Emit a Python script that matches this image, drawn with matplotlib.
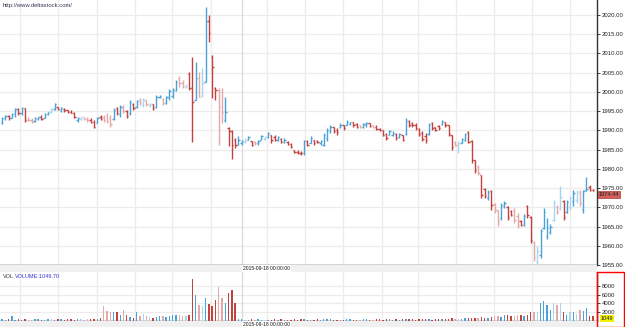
import numpy as np
import matplotlib
matplotlib.use("Agg")
import matplotlib.pyplot as plt
from matplotlib.patches import Rectangle

plt.rcParams['font.family'] = ['Liberation Sans', 'DejaVu Sans']

# ---- 15 min OHLC bars ----
opens = [
    1992.0, 1993.2, 1993.8, 1993.2, 1994.2, 1995.5, 1994.4, 1995.8, 1992.8, 1992.6,
    1992.4, 1993.0, 1993.4, 1993.3, 1994.3, 1994.7, 1995.5, 1996.1, 1995.3, 1995.6,
    1995.2, 1994.9, 1994.6, 1992.6, 1993.0, 1993.4, 1993.0, 1992.6, 1992.1, 1992.0,
    1993.6, 1993.5, 1993.8, 1993.2, 1993.0, 1995.8, 1994.2, 1996.2, 1995.0, 1994.4,
    1996.9, 1996.0, 1997.8, 1996.6,
    1997.8, 1996.5, 1996.9, 1996.0, 1998.6, 1998.2, 1997.0, 1998.6, 1999.0, 2000.5,
    2003.6, 2002.3, 2001.3, 2004.6, 2001.0, 1998.0, 2003.6, 1999.0, 2002.7, 2018.5,
    2009.0, 2001.0, 2000.6, 2000.0, 1992.8, 1990.5, 1989.9, 1987.5, 1986.3, 1986.6,
    1987.0, 1987.6, 1987.2, 1987.0, 1986.6, 1987.6, 1987.8, 1988.2, 1988.7, 1988.4,
    1987.4, 1987.8, 1987.0, 1987.0, 1986.5,
    1985.0, 1984.4, 1984.2, 1984.0, 1987.2, 1986.8, 1987.4, 1987.2, 1986.7, 1986.3,
    1988.0, 1989.8, 1990.8, 1990.2, 1990.8, 1991.3, 1991.5, 1991.7, 1992.2, 1991.6,
    1991.3, 1990.8, 1991.3, 1991.8, 1991.3, 1991.0, 1990.4, 1990.0, 1989.0, 1988.9,
    1988.9, 1989.1, 1988.2, 1988.8, 1989.0, 1992.5, 1992.0, 1991.5, 1990.4, 1989.2,
    1988.6, 1989.0, 1992.0, 1990.8, 1991.2,
    1991.6, 1992.2, 1991.4, 1988.7, 1987.0, 1984.8, 1986.8, 1987.5, 1989.5, 1987.3,
    1982.2, 1980.5, 1978.4, 1974.8, 1972.4, 1974.2, 1970.8, 1969.2, 1967.2, 1970.3,
    1970.0, 1969.0, 1969.3, 1967.8, 1966.5, 1965.5, 1970.3, 1967.5, 1961.0, 1955.8,
    1957.6, 1964.5, 1962.5, 1963.5, 1966.8, 1970.2, 1969.6, 1971.6, 1968.9, 1970.0,
    1971.6, 1972.0, 1974.0, 1969.5, 1974.4, 1975.4, 1974.6,
]
highs = [
    1993.6, 1994.1, 1993.9, 1994.5, 1995.8, 1995.8, 1996.0, 1995.8, 1993.4, 1993.2,
    1993.6, 1993.6, 1994.1, 1994.5, 1994.9, 1995.8, 1997.1, 1996.2, 1996.2, 1995.8,
    1995.4, 1995.4, 1994.9, 1993.6, 1993.6, 1993.6, 1993.6, 1993.2, 1992.8, 1993.6,
    1994.1, 1994.1, 1994.5, 1994.1, 1995.8, 1996.2, 1996.7, 1996.7, 1995.4, 1998.0,
    1997.1, 1998.0, 1998.4, 1998.4,
    1998.0, 1997.1, 1996.9, 1999.3, 1999.3, 1998.4, 1999.0, 2000.7, 2001.0, 2003.0,
    2004.2, 2003.1, 2001.9, 2005.3, 2009.2, 2007.9, 2005.3, 2006.2, 2022.2, 2020.0,
    2009.6, 2001.2, 2001.0, 2001.0, 1998.6, 1991.0, 1990.2, 1988.0, 1988.5, 1987.6,
    1988.0, 1988.5, 1987.2, 1987.2, 1987.6, 1988.9, 1988.5, 1989.7, 1988.9, 1988.9,
    1988.5, 1988.0, 1988.0, 1987.2, 1986.7,
    1985.0, 1984.8, 1984.6, 1987.6, 1987.6, 1988.5, 1987.6, 1987.6, 1987.6, 1989.3,
    1990.6, 1991.5, 1991.0, 1990.6, 1991.9, 1991.5, 1992.8, 1992.3, 1992.3, 1991.9,
    1991.5, 1991.9, 1992.3, 1991.9, 1991.5, 1991.5, 1990.6, 1990.2, 1989.3, 1990.2,
    1989.8, 1989.3, 1989.3, 1988.9, 1993.2, 1992.8, 1992.3, 1991.9, 1990.6, 1989.8,
    1989.3, 1991.9, 1992.3, 1991.0, 1991.5,
    1992.8, 1992.3, 1991.5, 1988.9, 1987.2, 1987.2, 1988.0, 1989.3, 1989.8, 1987.6,
    1982.4, 1981.1, 1978.5, 1975.1, 1974.6, 1974.6, 1971.2, 1969.4, 1971.2, 1971.6,
    1970.3, 1969.4, 1969.9, 1968.6, 1966.8, 1968.2, 1970.7, 1967.7, 1961.2, 1959.9,
    1964.3, 1969.9, 1967.3, 1965.6, 1972.0, 1970.7, 1975.5, 1972.0, 1972.0, 1972.9,
    1974.6, 1974.6, 1974.6, 1974.6, 1977.9, 1975.7, 1974.8,
]
lows = [
    1991.6, 1992.8, 1992.8, 1993.2, 1993.6, 1994.1, 1994.1, 1992.3, 1992.5, 1991.9,
    1992.3, 1992.8, 1992.8, 1993.2, 1994.1, 1994.5, 1995.4, 1995.4, 1994.9, 1994.9,
    1994.5, 1994.5, 1993.2, 1992.3, 1992.8, 1992.8, 1992.3, 1991.9, 1990.6, 1991.9,
    1992.8, 1992.3, 1991.9, 1991.0, 1992.8, 1994.1, 1993.6, 1994.5, 1993.2, 1994.1,
    1995.4, 1995.8, 1996.7, 1996.2,
    1996.4, 1996.2, 1995.4, 1995.8, 1998.4, 1996.7, 1996.8, 1998.0, 1998.4, 2000.2,
    2001.4, 2001.0, 2001.0, 2000.6, 1986.9, 1998.0, 1998.8, 1998.8, 2002.7, 2013.1,
    1998.4, 1998.0, 1986.3, 1991.9, 1992.3, 1985.9, 1982.6, 1985.4, 1986.3, 1986.3,
    1986.7, 1987.6, 1985.9, 1986.3, 1986.3, 1987.6, 1987.6, 1988.0, 1986.7, 1987.2,
    1987.2, 1986.7, 1986.7, 1986.3, 1985.4,
    1984.1, 1983.9, 1983.7, 1983.7, 1985.9, 1986.7, 1986.3, 1986.7, 1986.3, 1985.9,
    1987.2, 1989.3, 1989.3, 1988.9, 1990.6, 1990.2, 1991.5, 1991.5, 1991.0, 1990.6,
    1990.6, 1990.6, 1991.0, 1991.0, 1990.6, 1990.2, 1989.8, 1988.5, 1987.6, 1988.9,
    1988.5, 1987.6, 1988.0, 1987.2, 1988.9, 1991.0, 1991.0, 1990.2, 1988.5, 1987.2,
    1986.7, 1988.9, 1990.2, 1989.8, 1990.2,
    1991.5, 1991.0, 1988.5, 1985.0, 1985.9, 1984.1, 1986.7, 1987.2, 1986.7, 1981.5,
    1979.0, 1978.5, 1972.5, 1972.5, 1972.0, 1969.4, 1968.6, 1965.1, 1966.8, 1969.9,
    1966.8, 1967.7, 1966.0, 1964.7, 1965.1, 1965.1, 1967.3, 1960.8, 1956.0, 1955.2,
    1956.9, 1964.3, 1961.7, 1963.0, 1966.4, 1968.2, 1969.4, 1966.8, 1968.6, 1969.4,
    1970.3, 1971.2, 1970.3, 1968.6, 1974.2, 1974.2, 1974.2,
]
closes = [
    1993.2, 1993.8, 1993.2, 1994.2, 1995.5, 1994.4, 1995.8, 1992.8, 1992.6, 1992.1,
    1993.3, 1993.4, 1993.0, 1994.3, 1994.7, 1995.5, 1996.8, 1995.6, 1995.9, 1995.2,
    1994.8, 1994.6, 1993.4, 1993.3, 1993.4, 1993.0, 1992.6, 1992.1, 1991.0, 1993.3,
    1993.0, 1992.7, 1992.5, 1991.6, 1995.3, 1994.6, 1996.2, 1995.0, 1993.8, 1997.3,
    1995.8, 1997.6, 1997.0, 1997.8,
    1996.8, 1996.9, 1995.8, 1998.6, 1999.0, 1997.0, 1998.6, 2000.3, 2000.5, 2002.5,
    2002.3, 2001.6, 2001.7, 2001.0, 1997.5, 2003.6, 1998.8, 2002.3, 2018.5, 2015.2,
    2006.6, 2000.6, 1996.2, 1994.8, 1994.8, 1989.9, 1986.1, 1986.1, 1987.6, 1987.2,
    1987.6, 1988.2, 1986.1, 1986.6, 1987.2, 1988.6, 1988.2, 1989.3, 1987.6, 1987.6,
    1988.2, 1987.0, 1987.6, 1986.5, 1985.7,
    1984.4, 1984.2, 1984.0, 1987.2, 1986.3, 1988.0, 1986.7, 1986.9, 1987.2, 1988.9,
    1990.2, 1991.0, 1989.8, 1989.5, 1991.5, 1990.6, 1992.3, 1992.1, 1991.3, 1991.0,
    1990.8, 1991.6, 1992.0, 1991.2, 1990.8, 1990.4, 1990.0, 1988.9, 1988.0, 1989.8,
    1989.4, 1988.0, 1989.0, 1987.6, 1992.5, 1991.4, 1991.4, 1990.6, 1989.0, 1987.8,
    1987.4, 1991.3, 1990.6, 1990.2, 1990.6,
    1992.5, 1991.4, 1989.0, 1985.8, 1986.3, 1986.8, 1987.7, 1989.0, 1987.0, 1982.3,
    1979.6, 1979.0, 1973.3, 1973.0, 1974.0, 1970.5, 1969.3, 1966.4, 1970.5, 1971.2,
    1967.6, 1968.0, 1966.6, 1965.4, 1965.5, 1967.8, 1968.0, 1961.4, 1957.2, 1958.6,
    1963.8, 1968.7, 1964.7, 1965.0, 1971.2, 1968.8, 1972.6, 1967.6, 1971.4, 1972.4,
    1973.8, 1973.8, 1971.0, 1974.3, 1974.8, 1974.6, 1974.44,
]
volumes = [
    250, 180, 300, 1100, 200, 350, 150, 400, 220, 180, 260, 300, 150, 200, 280, 350,
    180, 240, 300, 200, 260, 320, 180, 300, 240, 200, 380, 260, 300, 420, 500,
    3300, 2350, 2100, 2100, 1900, 1300, 2500, 1300, 900, 700, 2100, 1100, 1550, 1100,
    800, 600, 800, 1100, 950, 800, 1100, 1300, 1300, 1300, 1100, 950, 1200,
    9750, 6000, 3650, 3300, 5200, 3900, 3300, 4850, 7950, 5200, 4050, 6400, 7200, 4050,
    300, 250, 200, 150, 250, 200, 300, 180, 220, 150,
    200, 250, 180, 300, 220, 150, 200, 260, 180, 240,
    300, 200, 180, 150, 250, 200, 300, 350, 250, 200,
    180, 150, 220, 300, 250, 180, 200, 150, 260, 300,
    200, 180, 250, 300, 220, 400, 260, 200, 300, 180,
    250, 350, 400, 300, 200, 250, 300, 350, 280, 220, 300, 250,
    350, 400, 300, 500, 450, 350, 400, 600, 500, 700, 600, 550, 800, 650, 700, 900,
    1000, 1100, 900, 1200, 1300, 1000, 1100, 1250, 1300, 1100,
    1300, 2100, 2100, 2100, 4200, 4600, 3650, 2500, 4050, 3650, 4200, 2100, 1300,
    2100, 2100, 1550, 2500, 2350, 2900, 1100, 1049.70,
]
# bars drawn in the lighter shade
faded = [8, 9, 15, 24, 25, 26, 31, 32, 33, 37, 42, 43, 44, 45, 49, 54, 55, 56, 60,
         61, 66, 67, 74, 77, 80, 109, 113, 138, 139, 145, 150, 151, 156, 157, 162,
         163, 168, 169, 170, 173, 175, 176]
price_ticks = list(range(1955, 2025, 5))
vol_ticks = [2000, 4000, 6000, 8000]
last_price = "1974.44"
cursor_time = "2015-09-18 00:00:00"
vol_text = "VOLUME:1049.70"

UP, UP_F = '#4aa2d6', '#a8d5ef'
DN, DN_F = '#c2423f', '#e5a8a8'
GRID = '#ececec'

n = len(closes)
x = np.arange(n)
colors = []
for i in range(n):
    light = i in faded
    if closes[i] >= opens[i]:
        colors.append(UP_F if light else UP)
    else:
        colors.append(DN_F if light else DN)

W, H = 625, 327
fig = plt.figure(figsize=(W / 100, H / 100), dpi=100)


def box(x0, y0, x1, y1):
    # pixel box (top-left origin) -> figure fraction
    return [x0 / W, 1 - y1 / H, (x1 - x0) / W, (y1 - y0) / H]


# grey strips under each panel
fig.patches.append(Rectangle((0, 1 - 272 / H), 597 / W, 7 / H, transform=fig.transFigure,
                             fc='#f0f0f0', ec='none', zorder=0))
fig.patches.append(Rectangle((0, 0), 597 / W, 6 / H, transform=fig.transFigure,
                             fc='#f0f0f0', ec='none', zorder=0))

ax = fig.add_axes(box(0, 0, 597, 265))
axv = fig.add_axes(box(0, 272, 597, 320.5))

grid_x = [5.5, 17.1, 28.9, 40.5, 51.8, 63.7, 80.7, 92.3, 103.9, 115.7, 126.7,
          138.3, 149.9, 161.4, 173.0]
cursor_x = 73.1
xlim = (-0.61, 181.2)

# price panel
tw = 0.42
ax.vlines(x, lows, highs, colors=colors, lw=1.0, zorder=3)
ax.hlines(opens, x - tw, x, colors=colors, lw=1.0, zorder=3)
ax.hlines(closes, x, x + tw, colors=colors, lw=1.0, zorder=3)
ax.set_xlim(*xlim)
ax.set_ylim(1955.0, 2023.9)
ax.set_yticks(price_ticks)
ax.set_yticklabels([f"{v:.2f}" for v in price_ticks])
ax.yaxis.tick_right()
ax.set_xticks(grid_x)
ax.set_xticklabels([])
ax.tick_params(axis='y', labelsize=4.3, length=2, width=0.6, pad=1.2, colors='#222222')
ax.tick_params(axis='x', length=0)
ax.grid(True, color=GRID, lw=0.9)
ax.axvline(cursor_x, color='#d9d9d9', lw=0.9)
for s in ['top', 'left']:
    ax.spines[s].set_visible(False)
for s in ['right', 'bottom']:
    ax.spines[s].set_color('#333333')
    ax.spines[s].set_linewidth(1.0)

# last price marker sits just below the 1975.00 label
ax.text(1.003, float(last_price) - 1.1, last_price, transform=ax.get_yaxis_transform(),
        ha='left', va='center', fontsize=4.0, color='#222222', zorder=5, clip_on=False,
        bbox=dict(boxstyle='square,pad=0.1', fc='#d0605b', ec='#b03a36', lw=0.5))

# volume panel
axv.bar(x, volumes, width=0.42, color=colors, zorder=3)
axv.set_xlim(*xlim)
axv.set_ylim(0, 11400)
axv.set_yticks(vol_ticks)
axv.set_yticklabels([str(v) for v in vol_ticks])
axv.yaxis.tick_right()
axv.set_xticks(grid_x)
axv.set_xticklabels([])
axv.tick_params(axis='y', labelsize=4.3, length=2, width=0.6, pad=1.5, colors='#222222')
axv.tick_params(axis='x', length=0)
axv.grid(True, color=GRID, lw=0.9)
axv.axvline(cursor_x, color='#d9d9d9', lw=0.9)
for s in ['top', 'left']:
    axv.spines[s].set_visible(False)
for s in ['right', 'bottom']:
    axv.spines[s].set_color('#333333')
    axv.spines[s].set_linewidth(1.0)

# labels and overlays
fig.text(3 / W, 1 - 5 / H, "http://www.deltastock.com/", fontsize=4.2,
         va='center', ha='left', color='#333355')
fig.text(3 / W, 1 - 277 / H, "VOL", fontsize=4.0, va='center', color='#333333')
fig.text(15 / W, 1 - 277 / H, vol_text, fontsize=4.0, va='center', color='#3535d0')
for yy in (268.5, 324):
    fig.text(243 / W, 1 - yy / H, cursor_time, fontsize=3.6, va='center', ha='left',
             color='#111111',
             bbox=dict(boxstyle='square,pad=0.15', fc='white', ec='none'))
fig.text(601 / W, 1 - 318.5 / H, "1049", fontsize=4.0, va='center', ha='left',
         color='#222222', bbox=dict(boxstyle='square,pad=0.1', fc='#f2f200', ec='none'))
fig.patches.append(Rectangle((597 / W, 1 - 326.5 / H), 27 / W, 54.5 / H,
                             transform=fig.transFigure, fill=False, ec='#ff0000',
                             lw=1.0, zorder=6))

fig.savefig("out.png", dpi=100)
